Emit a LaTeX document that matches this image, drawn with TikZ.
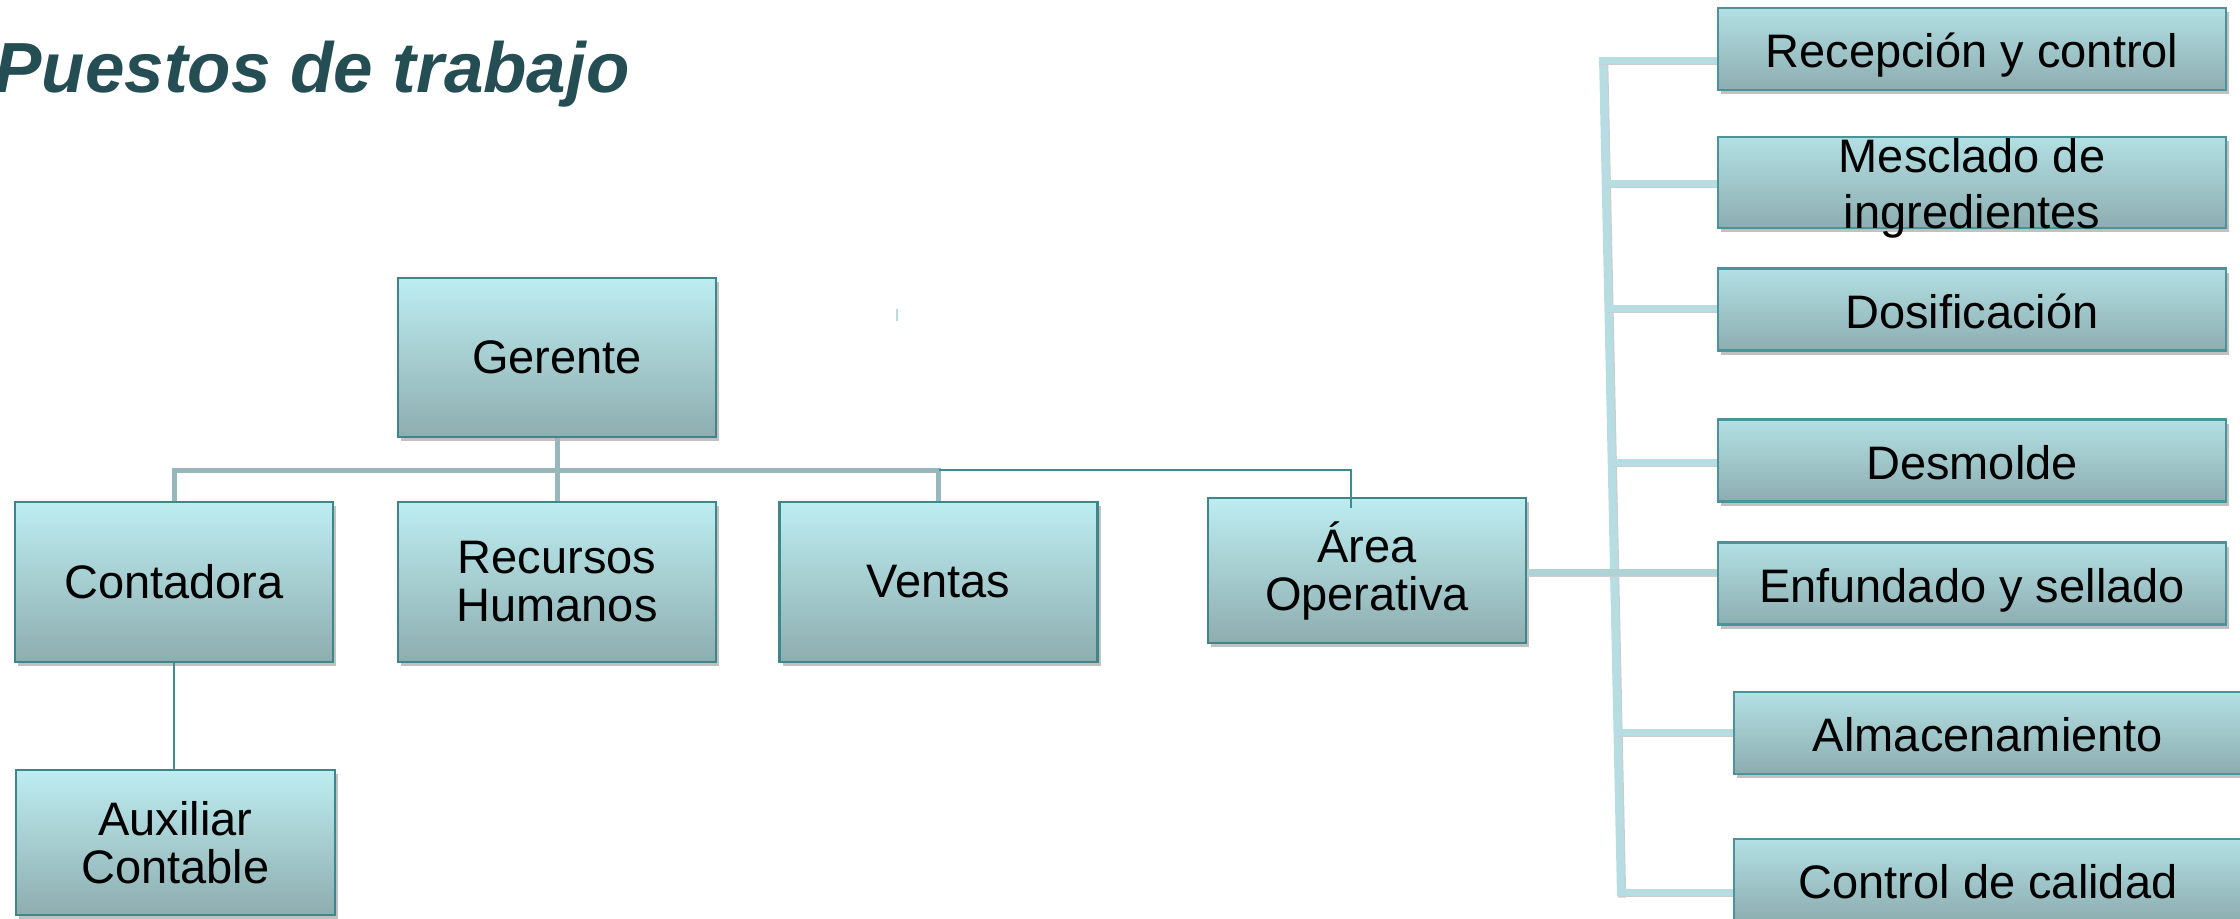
\documentclass[tikz,border=0pt]{standalone}
\usepackage{fontspec}
\setmainfont{Liberation Sans}
\usetikzlibrary{shadows}
\definecolor{boxtop}{HTML}{BDEDF1}
\definecolor{boxbot}{HTML}{8EADAF}
\definecolor{boxedge}{HTML}{3F868B}
\definecolor{rtop}{HTML}{B2E0E4}
\definecolor{rbot}{HTML}{8DADB0}
\definecolor{redge}{HTML}{4A9399}
\definecolor{busc}{HTML}{97B8BB}
\definecolor{thinc}{HTML}{3E8C91}
\definecolor{trunkc}{HTML}{B6DEE2}
\definecolor{arealc}{HTML}{AED2D5}
\definecolor{titlec}{HTML}{244E53}
\tikzset{
  basebox/.style={line width=1.2pt, align=center, text=black, inner sep=0pt,
    font=\fontsize{23.5}{24}\selectfont,
    drop shadow={shadow xshift=1.5pt, shadow yshift=-2pt, opacity=0.35, fill=black!70}},
  lbox/.style={basebox, draw=boxedge, top color=boxtop, bottom color=boxbot, minimum width=159pt},
  rbox/.style={basebox, draw=redge, top color=rtop, bottom color=rbot, minimum width=254pt, minimum height=41pt,
    text height=18.5pt, text depth=0pt},
  bus/.style={draw=busc, line width=2.5pt},
  thinline/.style={draw=thinc, line width=1pt},
  trunk/.style={draw=trunkc, line width=4pt, preaction={draw=black!20, line width=4pt, transform canvas={xshift=0.6pt, yshift=-0.8pt}}},
  branch/.style={draw=trunkc, line width=3.5pt, preaction={draw=black!20, line width=3.5pt, transform canvas={yshift=-0.9pt}}},
  arealine/.style={draw=arealc, line width=3.5pt, preaction={draw=black!20, line width=3.5pt, transform canvas={yshift=-0.9pt}}},
  tickmark/.style={draw=trunkc, line width=1.2pt},
}
\begin{document}
\begin{tikzpicture}[x=0.5pt, y=-0.5pt]
\useasboundingbox (0,0) rectangle (2240,918);

% title
\node[anchor=base west, inner sep=0pt, text=titlec, font=\fontsize{35.5}{40}\selectfont\bfseries\itshape] (title) at (-6,92) {Puestos de trabajo};

% left tree
\node[lbox, minimum height=79.5pt] (ger) at (557,357.5) {Gerente};
\node[lbox, minimum height=80pt] (con) at (174,582) {Contadora};
\node[lbox, minimum height=80pt] (rh) at (557,582) {Recursos\\Humanos};
\node[lbox, minimum height=80pt] (ven) at (938.5,582) {Ventas};
\node[lbox, minimum height=72.5pt] (are) at (1367,570.5) {Área\\Operativa};
\node[lbox, minimum height=72.5pt, minimum width=159.5pt] (aux) at (175.5,842.5) {Auxiliar\\Contable};

\coordinate (busy) at (174,470);
\coordinate (areatop) at (1351,508);
\coordinate (arey) at (0,572);

\draw[bus] (con.north) |- (ven.north |- busy) -- (ven.north);
\draw[bus] (ger.south) -- (rh.north);
\draw[thinline] (ven.north |- busy) -| (areatop);
\draw[thinline] (con.south) -- (con.south |- aux.north);
\draw[tickmark] (897,309) -- (897,321);

% right column
\node[rbox] (rec) at (1972,49) {Recepción y control};
\node[rbox, minimum height=45.5pt, text height=0pt, text depth=10.5pt] (mes) at (1972,182.5) {\begin{tabular}[t]{@{}c@{}}Mesclado de\\[4pt]ingredientes\end{tabular}};
\node[rbox] (dos) at (1972,309.5) {Dosificación};
\node[rbox] (des) at (1972,460.5) {Desmolde};
\node[rbox] (enf) at (1972,583.5) {Enfundado y sellado};
\node[rbox] (alm) at (1988,733) {Almacenamiento};
\node[rbox] (cal) at (1988,880) {Control de calidad};

\coordinate (ttop) at (1603,57);
\coordinate (tbot) at (1621,896);
\coordinate (b1) at (1600,60);
\coordinate (b2) at (1606,183);
\coordinate (b3) at (1608,308);
\coordinate (b4) at (1612,462);
\coordinate (b6) at (1618,732);
\coordinate (b7) at (1619,892);

\draw[trunk] (ttop) -- (tbot);
\draw[branch] (b1) -- (b1 -| rec.west);
\draw[branch] (b2) -- (b2 -| mes.west);
\draw[branch] (b3) -- (b3 -| dos.west);
\draw[branch] (b4) -- (b4 -| des.west);
\draw[branch] (b6) -- (b6 -| alm.west);
\draw[branch] (b7) -- (b7 -| cal.west);
\draw[arealine] (are.east |- arey) -- (enf.west |- arey);
\end{tikzpicture}
\end{document}
